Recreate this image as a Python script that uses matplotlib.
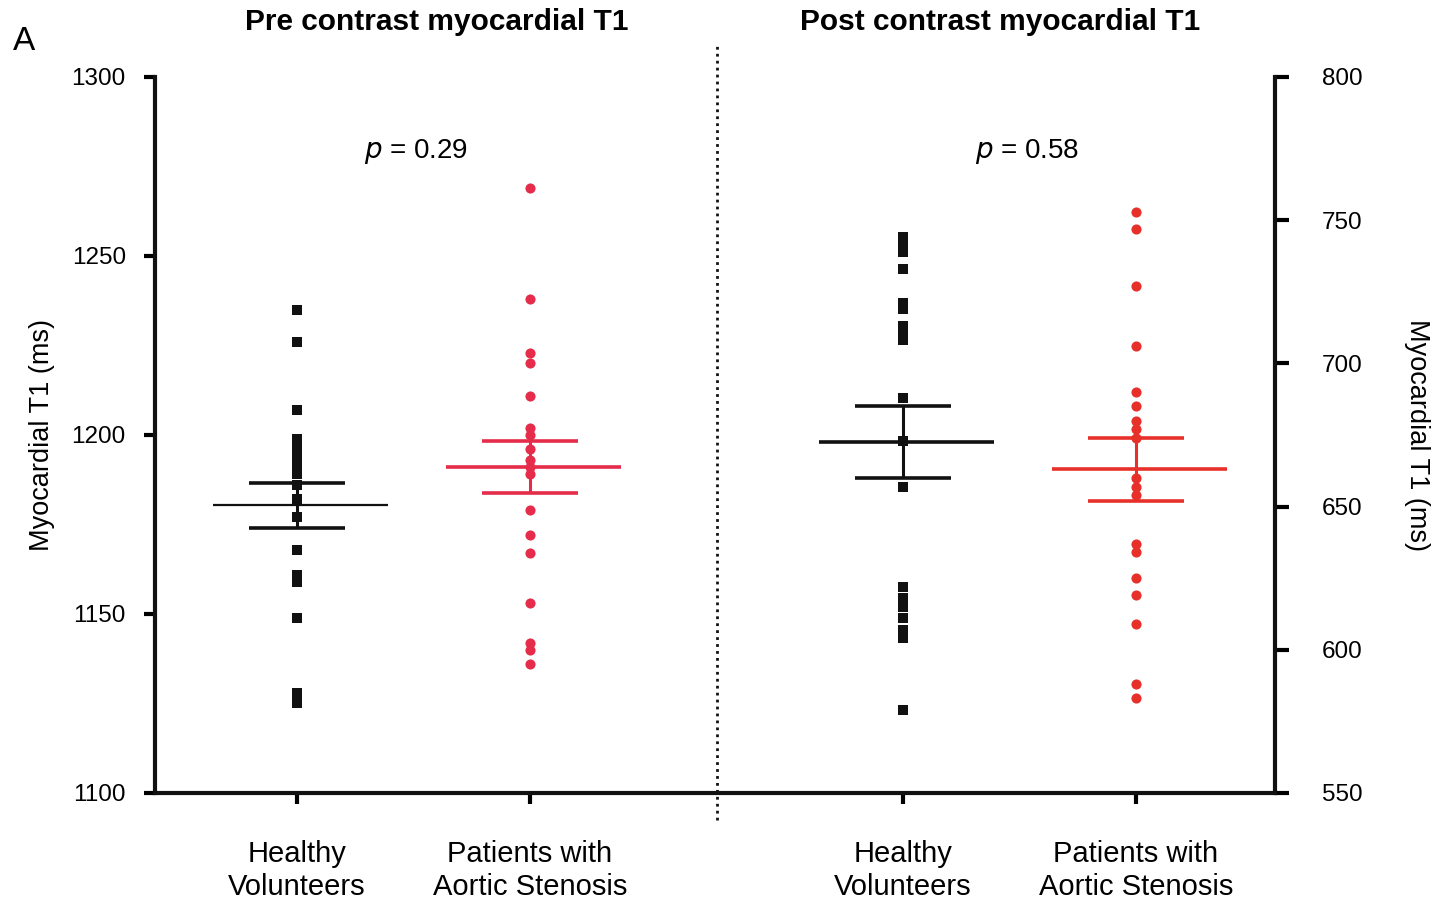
import matplotlib
matplotlib.use("Agg")
import matplotlib.pyplot as plt

plt.rcParams['font.family'] = ['Liberation Sans', 'DejaVu Sans']

# Group labels
categories = ["Healthy\nVolunteers", "Patients with\nAortic Stenosis",
              "Healthy\nVolunteers", "Patients with\nAortic Stenosis"]

# Pre-contrast myocardial T1 (ms), left axis
pre_healthy = [1235, 1226, 1207, 1199, 1197, 1195, 1193, 1191, 1189, 1186,
               1182, 1177, 1168, 1161, 1159, 1149, 1128, 1125]
pre_as = [1269, 1238, 1223, 1220, 1211, 1202, 1200, 1196, 1193, 1191, 1189,
          1179, 1172, 1167, 1153, 1142, 1140, 1136]
pre_mean = [1180.4, 1191.0]
pre_sem = [6.3, 7.3]

# Post-contrast myocardial T1 (ms), right axis
post_healthy = [744, 742, 739, 733, 721, 719, 713, 711, 708, 688, 673, 657,
                622, 618, 615, 611, 607, 604, 579]
post_as = [753, 747, 727, 706, 690, 685, 680, 677, 674, 660, 657, 654,
           637, 634, 625, 619, 609, 588, 583]
post_mean = [672.6, 663.0]
post_sem = [12.5, 11.0]

p_values = ["0.29", "0.58"]

left_ticks = [1100, 1150, 1200, 1250, 1300]
right_ticks = [550, 600, 650, 700, 750, 800]

xpos = [1.0, 2.0, 3.6, 4.6]
black = "#111111"
red_pre = "#e52d4b"
red_post = "#e8302a"

fig = plt.figure(figsize=(14.4, 9), dpi=100)
ax = fig.add_axes([0.1076, 0.1189, 0.7778, 0.7956])
ax2 = ax.twinx()

ax.set_xlim(0.3906, 5.197)
ax.set_ylim(1100, 1300)
ax2.set_ylim(550, 800)

for a in (ax, ax2):
    a.spines['top'].set_visible(False)
    for s in a.spines.values():
        s.set_linewidth(3)
        s.set_color(black)
ax.spines['right'].set_visible(False)
ax2.spines['left'].set_visible(False)
ax2.spines['bottom'].set_visible(False)

ax.set_yticks(left_ticks)
ax2.set_yticks(right_ticks)
ax.tick_params(axis='y', length=8, width=3, labelsize=17.5, pad=13)
ax2.tick_params(axis='y', length=10, width=3, labelsize=17.5, pad=24)
ax.set_xticks(xpos)
ax.set_xticklabels(categories, fontsize=21, linespacing=1.2)
ax.tick_params(axis='x', length=8, width=3, pad=26)

ax.set_ylabel("Myocardial T1 (ms)", fontsize=19.5, labelpad=12)
ax2.set_ylabel("Myocardial T1 (ms)", fontsize=19.5, rotation=-90, labelpad=48)


def draw_group(axis, x, values, mean, sem, color, marker, mean_lw):
    axis.plot([x] * len(values), values, linestyle='none', marker=marker,
              markersize=7.3, color=color, markeredgewidth=0, zorder=3)
    axis.hlines(mean, x - 0.36, x + 0.39, color=color, lw=mean_lw, zorder=4)
    axis.hlines([mean - sem, mean + sem], x - 0.205, x + 0.205,
                color=color, lw=2.6, zorder=4)
    axis.vlines(x, mean - sem, mean + sem, color=color, lw=2.2, zorder=4)


draw_group(ax, xpos[0], pre_healthy, pre_mean[0], pre_sem[0], black, 's', 1.6)
draw_group(ax, xpos[1], pre_as, pre_mean[1], pre_sem[1], red_pre, 'o', 2.6)
draw_group(ax2, xpos[2], post_healthy, post_mean[0], post_sem[0], black, 's', 2.6)
draw_group(ax2, xpos[3], post_as, post_mean[1], post_sem[1], red_post, 'o', 2.6)

# Dotted separator between the two panels
ax.axvline(2.803, ymin=-0.038, ymax=1.045, color=black, lw=2,
           linestyle=(0, (1, 1.5)), clip_on=False)

# Panel titles
fig.text(437 / 1440, 1 - 22 / 900, "Pre contrast myocardial T1", ha='center',
         va='center', fontsize=21.5, fontweight='bold')
fig.text(1000 / 1440, 1 - 22 / 900, "Post contrast myocardial T1", ha='center',
         va='center', fontsize=21.5, fontweight='bold')
fig.text(24 / 1440, 1 - 42 / 900, "A", ha='center', va='center', fontsize=24)

# p-values
fig.text(416 / 1440, 1 - 151 / 900, r"$p$ = " + p_values[0], ha='center',
         va='center', fontsize=20)
fig.text(1027 / 1440, 1 - 151 / 900, r"$p$ = " + p_values[1], ha='center',
         va='center', fontsize=20)

fig.savefig("out.png", dpi=100, facecolor='white')
